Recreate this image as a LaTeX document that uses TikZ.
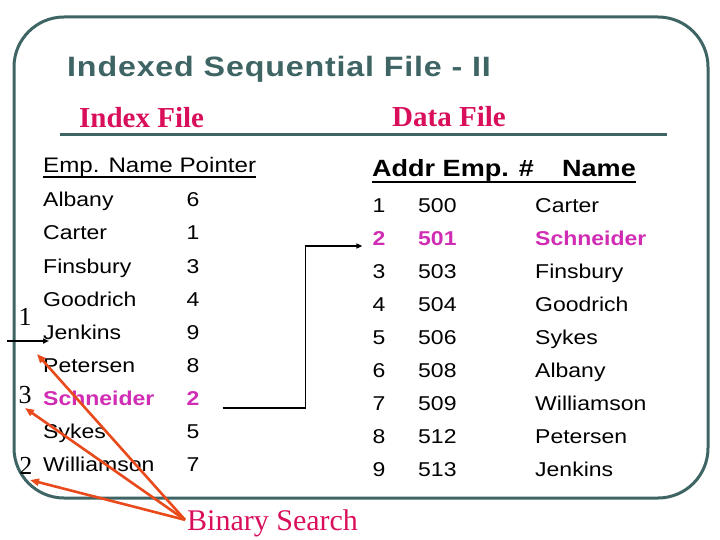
\documentclass[tikz,border=0pt]{standalone}
\usepackage{fontspec}
\setmainfont[FakeStretch=1.15]{Liberation Sans}
\newfontfamily\serifface{Liberation Serif}
\newfontfamily\titleface[FakeStretch=1.15, LetterSpace=3]{Liberation Sans}
\usepackage{xcolor}
\usetikzlibrary{arrows.meta, positioning, calc}
\definecolor{Slate}{HTML}{3E6464}
\definecolor{Rose}{HTML}{D90F5C}
\definecolor{Orchid}{HTML}{D02DB4}
\definecolor{Ember}{HTML}{E84A1B}

\begin{document}
\begin{tikzpicture}[
    x=1pt, y=-1pt,
    frame_line/.style={
        draw=Slate,
        line width=3pt,
        rounded corners=50pt
    },
    rule_line/.style={
        draw=Slate,
        line width=3pt
    },
    section_title/.style={
        anchor=base west,
        inner sep=0pt,
        text=Rose,
        font=\serifface\bfseries\fontsize{29}{32}\selectfont
    },
    head_text/.style={
        anchor=base west,
        inner sep=0pt,
        font=\fontsize{21}{24}\selectfont
    },
    row_text/.style={
        inner sep=0pt,
        text=black,
        font=\fontsize{20}{24}\selectfont
    },
    hot_text/.style={
        inner sep=0pt,
        text=Orchid,
        font=\bfseries\fontsize{20}{24}\selectfont
    },
    step_num/.style={
        anchor=base,
        inner sep=0pt,
        font=\serifface\fontsize{26}{28}\selectfont
    },
    link_arrow/.style={
        -{Triangle[length=6pt, width=5pt]},
        line width=1.6pt,
        color=black
    },
    search_arrow/.style={
        -{Triangle[length=9pt, width=7pt]},
        line width=2.6pt,
        color=Ember
    }
]
\useasboundingbox (0,0) rectangle (720,540);

% =========================
% FRAME AND TITLES
% =========================
\draw[frame_line] (14,17) rectangle (708,498);

\node[anchor=base west, inner sep=0pt, text=Slate,
    font=\titleface\bfseries\fontsize{28}{30}\selectfont]
    (title) at (67,77) {Indexed Sequential File - II};

\node[section_title] (indexfile) at (79,128) {Index File};
\node[section_title] (datafile) at (392,127) {Data File};
\draw[rule_line] (60,135) -- (667,135);

% =========================
% INDEX FILE
% =========================
\node[head_text] (lhead) at (43,173) {Emp. Name Pointer};
\draw[line width=1.8pt] ($(lhead.base west)+(0,4)$) -- ($(lhead.base east)+(0,4)$);

\foreach \nm/\pt/\st [count=\i] in {Albany/6/row_text, Carter/1/row_text,
    Finsbury/3/row_text, Goodrich/4/row_text, Jenkins/9/row_text,
    Petersen/8/row_text, Schneider/2/hot_text, Sykes/5/row_text,
    Williamson/7/row_text}
{
    \node[\st, anchor=base west] (lname\i) at (43,{174+33*\i}) {\nm};
    \node[\st, anchor=base] (lptr\i) at (193,{174+33*\i}) {\pt};
}

% search steps
\node[step_num] (step1) at (25,325) {1};
\node[step_num] (step3) at (25,403) {3};
\node[step_num] (step2) at (26,474) {2};

% =========================
% DATA FILE
% =========================
\node[head_text, font=\bfseries\fontsize{23.5}{26}\selectfont]
    (rhead) at (372,177) {Addr Emp. \#};
\node[head_text, font=\bfseries\fontsize{23.5}{26}\selectfont]
    (namehead) at (562,177) {Name};
\draw[line width=1.8pt] ($(rhead.base west)+(0,5)$) -- ($(namehead.base east)+(0,5)$);

\foreach \ad/\em/\nm/\st [count=\i] in {1/500/Carter/row_text,
    2/501/Schneider/hot_text, 3/503/Finsbury/row_text,
    4/504/Goodrich/row_text, 5/506/Sykes/row_text, 6/508/Albany/row_text,
    7/509/Williamson/row_text, 8/512/Petersen/row_text,
    9/513/Jenkins/row_text}
{
    \node[\st, anchor=base] (addr\i) at (379,{179+33*\i}) {\ad};
    \node[\st, anchor=base west] (emp\i) at (418,{179+33*\i}) {\em};
    \node[\st, anchor=base west] (dname\i) at (535,{179+33*\i}) {\nm};
}

% =========================
% ARROWS
% =========================
\coordinate (entry) at (7,341);
\draw[link_arrow] (entry) -- ($(lname5.base west)+(6,2)$);

\draw[link_arrow] ($(lptr7.base east)+(23,3)$)
    -| ($(addr2.base west)+(-67,1)$) -- ($(addr2.base west)+(-10,1)$);

\node[anchor=base west, inner sep=0pt, text=Rose,
    font=\serifface\fontsize{30}{32}\selectfont]
    (bsearch) at (187,530) {Binary Search};

\coordinate (probe1) at (37,354);
\coordinate (probe2) at (25,408);
\coordinate (probe3) at (30,480);
\foreach \p in {probe1, probe2, probe3}
    \draw[search_arrow] ($(bsearch.west)+(-2,-3)$) -- (\p);

\end{tikzpicture}
\end{document}
